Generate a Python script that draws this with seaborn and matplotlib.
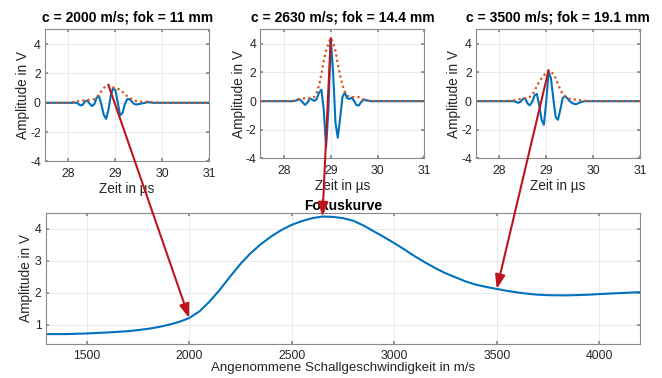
import numpy as np
import pandas as pd
import matplotlib
matplotlib.use("Agg")
import matplotlib.pyplot as plt
from matplotlib.patches import ConnectionPatch
import seaborn as sns

# ---------------- data ----------------
time_us = [27.5,
           28.00, 28.05, 28.10, 28.15, 28.20, 28.25, 28.30, 28.35, 28.40, 28.45,
           28.50, 28.55, 28.60, 28.65, 28.70, 28.75, 28.80, 28.85, 28.90, 28.95,
           29.00, 29.05, 29.10, 29.15, 29.20, 29.25, 29.30, 29.35, 29.40, 29.45,
           29.50, 29.55, 29.60, 29.65, 29.70, 29.75, 29.80, 29.85, 29.90, 29.95,
           30.00, 31.0]

sig_2000 = [0.0,
            0.0, 0.0, 0.0, 0.02, -0.05, -0.17, -0.15, 0.10, 0.15, -0.05,
            -0.22, -0.10, 0.35, 0.45, -0.10, -0.80, -1.10, -0.50, 0.50, 1.00,
            0.85, 0.00, -0.85, -0.70, -0.10, 0.25, 0.25, 0.08, -0.08, -0.12,
            -0.08, -0.05, -0.02, 0.02, 0.05, 0.03, 0.0, 0.0, 0.0, 0.0,
            0.0, 0.0]
env_2000 = [0.0,
            0.0, 0.02, 0.05, 0.08, 0.10, 0.12, 0.15, 0.18, 0.20, 0.20,
            0.22, 0.25, 0.40, 0.55, 0.80, 1.00, 1.18, 1.22, 1.15, 1.05,
            1.00, 0.95, 0.90, 0.75, 0.60, 0.45, 0.35, 0.25, 0.15, 0.12,
            0.10, 0.08, 0.08, 0.08, 0.07, 0.05, 0.03, 0.02, 0.01, 0.0,
            0.0, 0.0]

sig_2630 = [0.0,
            0.0, 0.0, 0.0, 0.0, 0.0, 0.03, 0.12, 0.10, -0.08, -0.26,
            -0.12, 0.18, 0.12, 0.02, 0.15, 0.60, 0.80, -0.60, -3.20, -0.60,
            4.35, 2.00, -1.50, -2.55, -1.20, 0.30, 0.60, 0.20, 0.15, 0.25,
            0.00, -0.28, -0.30, -0.05, 0.10, 0.08, 0.02, 0.0, 0.0, 0.0,
            0.0, 0.0]
env_2630 = [0.0,
            0.0, 0.0, 0.0, 0.0, 0.02, 0.05, 0.12, 0.15, 0.18, 0.20,
            0.20, 0.20, 0.20, 0.30, 0.60, 1.10, 1.90, 2.80, 3.50, 4.00,
            4.40, 4.10, 3.50, 2.60, 1.80, 1.10, 0.65, 0.40, 0.30, 0.28,
            0.28, 0.30, 0.28, 0.20, 0.12, 0.08, 0.04, 0.02, 0.0, 0.0,
            0.0, 0.0]

sig_3500 = [0.0,
            0.0, 0.0, 0.0, 0.0, 0.0, 0.0, 0.0, -0.05, -0.12, -0.05,
            0.15, 0.20, -0.15, -0.30, -0.05, 0.40, 0.50, -0.30, -1.30, -1.65,
            0.00, 2.05, 1.60, 0.20, -1.10, -1.30, -0.60, 0.20, 0.35, 0.20,
            0.00, -0.12, -0.20, -0.20, -0.12, -0.05, -0.02, 0.0, 0.0, 0.0,
            0.0, 0.0]
env_3500 = [0.0,
            0.0, 0.0, 0.0, 0.01, 0.02, 0.03, 0.05, 0.08, 0.10, 0.15,
            0.20, 0.22, 0.25, 0.30, 0.45, 0.70, 1.05, 1.35, 1.60, 1.80,
            2.00, 2.15, 2.05, 1.90, 1.60, 1.20, 0.80, 0.50, 0.35, 0.22,
            0.15, 0.12, 0.12, 0.10, 0.08, 0.05, 0.03, 0.02, 0.0, 0.0,
            0.0, 0.0]

c_speed = [1300, 1350, 1400, 1450, 1500, 1550, 1600, 1650, 1700, 1750,
           1800, 1850, 1900, 1950, 2000, 2050, 2100, 2150, 2200, 2250,
           2300, 2350, 2400, 2450, 2500, 2550, 2600, 2650, 2700, 2750,
           2800, 2850, 2900, 2950, 3000, 3050, 3100, 3150, 3200, 3250,
           3300, 3350, 3400, 3450, 3500, 3550, 3600, 3650, 3700, 3750,
           3800, 3850, 3900, 3950, 4000, 4050, 4100, 4150, 4200]
focus_amp = [0.71, 0.71, 0.71, 0.72, 0.73, 0.745, 0.76, 0.78, 0.80, 0.835,
             0.875, 0.93, 1.00, 1.09, 1.21, 1.42, 1.73, 2.10, 2.51, 2.90,
             3.24, 3.52, 3.76, 3.96, 4.12, 4.24, 4.33, 4.38, 4.37, 4.33,
             4.25, 4.10, 3.92, 3.74, 3.55, 3.35, 3.14, 2.95, 2.77, 2.61,
             2.48, 2.35, 2.25, 2.18, 2.12, 2.06, 2.01, 1.97, 1.94, 1.925,
             1.92, 1.92, 1.93, 1.94, 1.96, 1.975, 1.99, 2.005, 2.02]

titles = ["c = 2000 m/s; fok = 11 mm",
          "c = 2630 m/s; fok = 14.4 mm",
          "c = 3500 m/s; fok = 19.1 mm"]
signals = [sig_2000, sig_2630, sig_3500]
envelopes = [env_2000, env_2630, env_3500]
arrow_from = [(28.85, 1.22), (29.00, 4.40), (29.05, 2.15)]
arrow_to = [(2000, 1.21), (2650, 4.38), (3500, 2.12)]

top_xticks = [28, 29, 30, 31]
top_yticks = [-4, -2, 0, 2, 4]
bot_xticks = [1500, 2000, 2500, 3000, 3500, 4000]
bot_yticks = [1, 2, 3, 4]

# ---------------- style ----------------
sns.set_theme(style="whitegrid")
plt.rcParams["font.family"] = ["Liberation Sans", "DejaVu Sans"]
plt.rcParams["axes.unicode_minus"] = False

BLUE = "#0072BD"
ORANGE = "#D95319"
RED = "#C0141C"
TXT = "#262626"
SPINE = "#8a8a8a"
GRID = "#e6e6e6"

fig = plt.figure(figsize=(6.62, 3.78), dpi=100)
fig.patch.set_facecolor("white")

top_pos = [[0.0680, 0.5728, 0.2482, 0.3492],
           [0.3935, 0.5807, 0.2477, 0.3413],
           [0.7190, 0.5807, 0.2477, 0.3413]]
bot_pos = [0.0690, 0.0899, 0.8982, 0.3474]


def style_axes(ax):
    ax.set_facecolor("white")
    for sp in ax.spines.values():
        sp.set_visible(True)
        sp.set_color(SPINE)
        sp.set_linewidth(0.8)
    ax.grid(True, color=GRID, linewidth=0.6)
    ax.tick_params(axis="both", which="both", length=2.5, direction="in",
                   color=SPINE, labelsize=8.8, labelcolor=TXT, pad=3,
                   top=True, right=True, bottom=True, left=True)
    ax.tick_params(axis="x", pad=5)


top_axes = []
for i in range(3):
    ax = fig.add_axes(top_pos[i])
    df = pd.DataFrame({"t": time_us, "s": signals[i], "e": envelopes[i]})
    sns.lineplot(data=df, x="t", y="s", ax=ax, color=BLUE, linewidth=1.5,
                 estimator=None, sort=False)
    sns.lineplot(data=df, x="t", y="e", ax=ax, color=ORANGE, linewidth=1.6,
                 linestyle=(0, (1, 1.4)), estimator=None, sort=False)
    ax.set_xlim(27.5, 31)
    ax.set_ylim(-4, 5)
    ax.set_xticks(top_xticks)
    ax.set_yticks(top_yticks)
    ax.set_xticklabels([str(v) for v in top_xticks])
    ax.set_yticklabels([str(v) for v in top_yticks])
    style_axes(ax)
    ax.set_xlabel("Zeit in µs", fontsize=9.8, color=TXT, labelpad=1)
    ax.set_ylabel("Amplitude in V", fontsize=9.8, color=TXT, labelpad=0)
    ax.set_title(titles[i], fontsize=10, fontweight="bold", color="black", pad=6)
    top_axes.append(ax)

axb = fig.add_axes(bot_pos)
dfb = pd.DataFrame({"c": c_speed, "a": focus_amp})
sns.lineplot(data=dfb, x="c", y="a", ax=axb, color=BLUE, linewidth=1.5,
             estimator=None, sort=False)
axb.set_xlim(1300, 4200)
axb.set_ylim(0.4, 4.5)
axb.set_xticks(bot_xticks)
axb.set_yticks(bot_yticks)
axb.set_xticklabels([str(v) for v in bot_xticks])
axb.set_yticklabels([str(v) for v in bot_yticks])
style_axes(axb)
axb.tick_params(axis="x", pad=4)
axb.set_xlabel("Angenommene Schallgeschwindigkeit in m/s", fontsize=9.6,
               color=TXT, labelpad=0)
axb.set_ylabel("Amplitude in V", fontsize=9.8, color=TXT, labelpad=1)
axb.set_title("Fokuskurve", fontsize=10, fontweight="bold", color="black", pad=2)

for i in range(3):
    con = ConnectionPatch(xyA=arrow_from[i], coordsA=top_axes[i].transData,
                          xyB=arrow_to[i], coordsB=axb.transData,
                          arrowstyle="-|>,head_length=0.7,head_width=0.25",
                          mutation_scale=12, color=RED, linewidth=1.5,
                          shrinkA=0, shrinkB=0, zorder=10)
    fig.add_artist(con)

fig.savefig("out.png", dpi=100, facecolor="white")
